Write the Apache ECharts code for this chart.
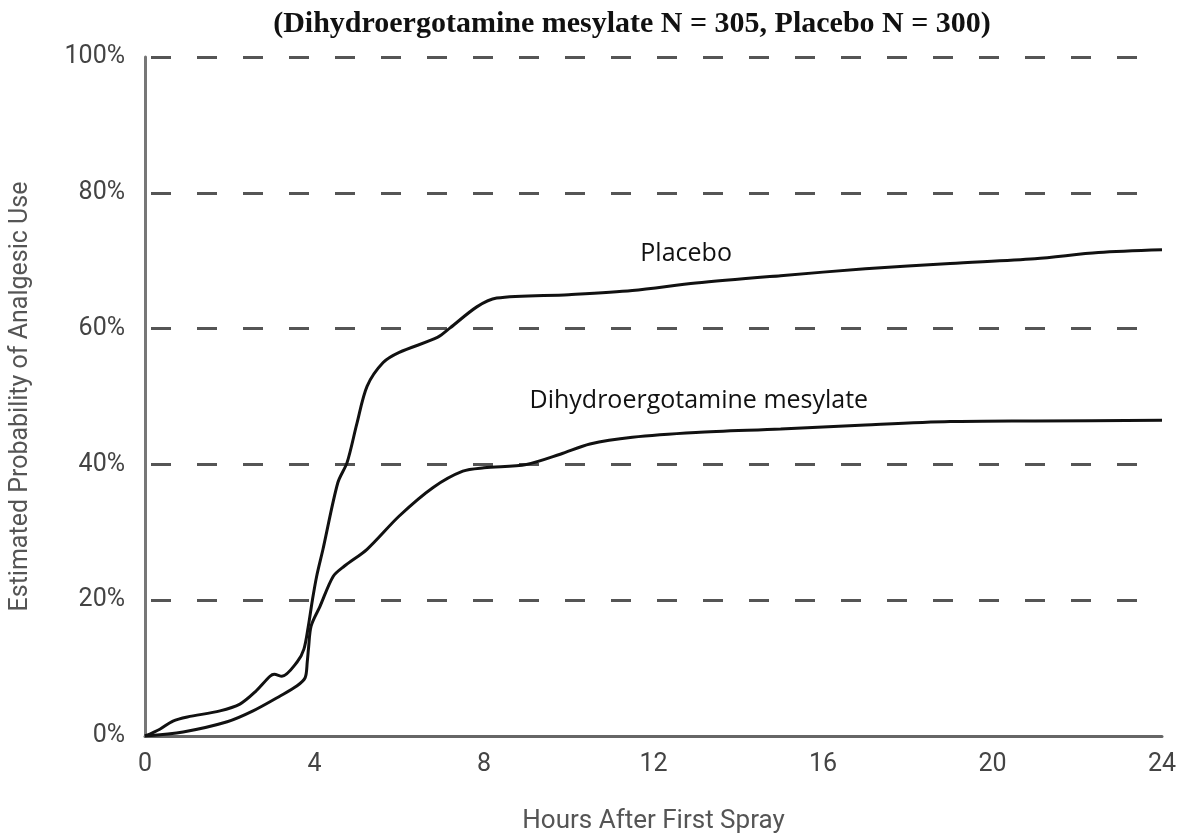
<!DOCTYPE html>
<html>
<head>
<meta charset="utf-8">
<script src="https://cdn.jsdelivr.net/npm/echarts@6/dist/echarts.min.js"></script>
<style>
  html, body { margin: 0; padding: 0; background: #fff; }
  #chart { width: 1184px; height: 839px; }
</style>
</head>
<body>
<div id="chart"></div>
<script>
// 数据：小时 / 估计的镇痛药使用概率 (%)
const xTicks = [0, 4, 8, 12, 16, 20, 24]
const yTicks = [0, 20, 40, 60, 80, 100]

const placeboHours = [0, 0.35, 0.66, 1.0, 1.77, 2.24, 2.6, 2.95, 3.05, 3.23, 3.59, 3.75, 3.85, 3.95, 4.05, 4.2, 4.55, 4.77, 5.0, 5.24, 5.62, 6.0, 6.9, 7.2, 7.83, 8.3, 10, 11.5, 13, 15, 17, 19, 21, 22.5, 24]
const placeboPct = [0, 1.0, 2.2, 2.8, 3.7, 4.7, 6.5, 8.8, 9.1, 8.8, 10.9, 12.8, 16, 20, 23.5, 27.5, 37.3, 40.3, 46, 51.5, 55, 56.5, 58.7, 60.1, 63.2, 64.5, 65, 65.6, 66.7, 67.8, 68.8, 69.6, 70.3, 71.2, 71.6]

const dheHours = [0, 0.9, 1.94, 2.55, 3.19, 3.59, 3.78, 3.83, 3.86, 3.92, 4.13, 4.44, 4.7, 5.24, 6.0, 6.8, 7.5, 8.0, 9.0, 9.8, 10.5, 11.5, 13, 15, 17, 19, 21, 24]
const dhePct = [0, 0.6, 2.1, 3.7, 5.9, 7.4, 8.6, 11, 13, 16.2, 19.1, 23.5, 25, 27.5, 32.4, 36.6, 39, 39.5, 40, 41.5, 43, 44, 44.7, 45.2, 45.8, 46.3, 46.4, 46.5]

const seriesNames = ['Placebo', 'Dihydroergotamine mesylate']
// 曲线旁文字标注的位置（数据坐标）
const labelPos = [[12.77, 71], [13.07, 49.4]]

const chart = echarts.init(document.getElementById('chart'))

const axisFont = "Roboto, 'Liberation Sans', sans-serif"

function pairs(xs, ys) {
  return xs.map((x, i) => [x, ys[i]])
}

function lineSeries(name, data, pos) {
  return {
    name: name,
    type: 'line',
    data: data,
    smooth: 0.3,
    symbol: 'none',
    lineStyle: { color: '#111', width: 3 },
    markPoint: {
      symbol: 'circle',
      symbolSize: 2,
      itemStyle: { color: 'rgba(0,0,0,0)' },
      data: [{ coord: pos, value: name }],
      label: {
        show: true,
        position: 'inside',
        formatter: name,
        color: '#111',
        fontSize: 25,
        fontFamily: "'Open Sans', 'Noto Sans', sans-serif"
      }
    }
  }
}

chart.setOption({
  animation: false,
  title: {
    text: '(Dihydroergotamine mesylate N = 305, Placebo N = 300)',
    left: 627,
    textAlign: 'center',
    top: 4,
    textStyle: {
      fontFamily: "'Liberation Serif', 'DejaVu Serif', serif",
      fontWeight: 'bold',
      fontSize: 30,
      color: '#111'
    }
  },
  grid: { left: 145, right: 22, top: 57, bottom: 102 },
  xAxis: {
    type: 'value',
    min: 0,
    max: 24,
    interval: 4,
    name: 'Hours After First Spray',
    nameLocation: 'middle',
    nameGap: 72,
    nameTextStyle: { fontFamily: axisFont, fontSize: 26, color: '#555' },
    axisLine: { show: true, lineStyle: { color: '#666', width: 3 } },
    axisTick: { show: false },
    axisLabel: { fontFamily: axisFont, fontSize: 25, color: '#444', margin: 16 },
    splitLine: { show: false }
  },
  yAxis: {
    type: 'value',
    min: 0,
    max: 100,
    interval: 20,
    name: 'Estimated Probability of Analgesic Use',
    nameLocation: 'middle',
    nameGap: 112,
    nameTextStyle: { fontFamily: axisFont, fontSize: 25, color: '#555' },
    axisLine: { show: true, lineStyle: { color: '#777', width: 3 } },
    axisTick: { show: false },
    axisLabel: {
      fontFamily: axisFont,
      fontSize: 25,
      color: '#444',
      margin: 20,
      formatter: v => yTicks.includes(v) ? v + '%' : ''
    },
    splitLine: {
      show: true,
      lineStyle: { color: '#555', width: 3, type: [20, 26], dashOffset: -6 }
    }
  },
  series: [
    lineSeries(seriesNames[0], pairs(placeboHours, placeboPct), labelPos[0]),
    lineSeries(seriesNames[1], pairs(dheHours, dhePct), labelPos[1])
  ]
})
</script>
</body>
</html>
